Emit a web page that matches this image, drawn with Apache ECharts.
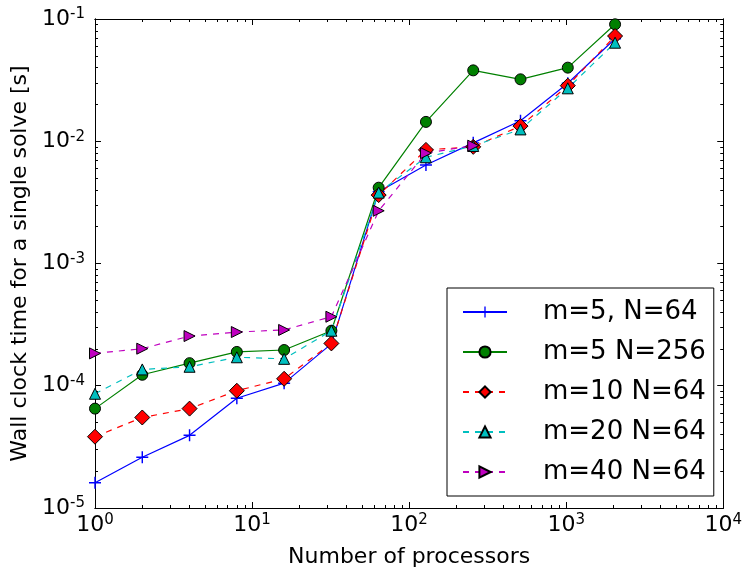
<!DOCTYPE html>
<html>
<head>
<meta charset="utf-8">
<script src="https://cdn.jsdelivr.net/npm/echarts@6/dist/echarts.min.js"></script>
<style>html,body{margin:0;padding:0;background:#fff;}#c{width:745px;height:575px;}</style>
</head>
<body>
<div id="c"></div>
<script>
// ---- data ----
const processors = [1, 2, 4, 8, 16, 32, 64, 128, 256, 512, 1024, 2048];
const m5N64   = [1.61e-5, 2.60e-5, 3.93e-5, 7.9e-5, 1.05e-4, 2.2e-4, 3.87e-3, 6.4e-3, 9.7e-3, 1.47e-2, 2.98e-2, 6.9e-2];
const m5N256  = [6.5e-5, 1.23e-4, 1.53e-4, 1.89e-4, 1.96e-4, 2.82e-4, 4.17e-3, 1.44e-2, 3.8e-2, 3.21e-2, 4.0e-2, 9.05e-2];
const m10N64  = [3.83e-5, 5.5e-5, 6.5e-5, 9.1e-5, 1.14e-4, 2.22e-4, 3.63e-3, 8.5e-3, 9.0e-3, 1.33e-2, 2.85e-2, 7.26e-2];
const m20N64  = [8.6e-5, 1.36e-4, 1.43e-4, 1.71e-4, 1.66e-4, 2.82e-4, 3.8e-3, 7.4e-3, 9.15e-3, 1.25e-2, 2.71e-2, 6.4e-2];
const m40N64  = [1.84e-4, 2.01e-4, 2.55e-4, 2.75e-4, 2.86e-4, 3.67e-4, 2.7e-3, 8.0e-3, 9.2e-3];
const seriesNames = ['m=5, N=64', 'm=5 N=256', 'm=10 N=64', 'm=20 N=64', 'm=40 N=64'];
const xTickValues = [1, 10, 100, 1000, 10000];
const xTickExps   = ['0', '1', '2', '3', '4'];
const yTickValues = [1e-5, 1e-4, 1e-3, 1e-2, 1e-1];
const yTickExps   = ['-5', '-4', '-3', '-2', '-1'];
const xTitle = 'Number of processors';
const yTitle = 'Wall clock time for a single solve [s]';

// ---- helpers ----
function minorTicks(majors) {
  const out = [];
  for (let i = 0; i < majors.length - 1; i++) {
    for (let k = 2; k <= 9; k++) out.push(majors[i] * k);
  }
  return out;
}
function pairs(xs, ys) { return ys.map((y, i) => [xs[i], y]); }

const FONT = 'DejaVu Sans';
const rich = {
  b: { fontFamily: FONT, fontSize: 22, color: '#000', lineHeight: 24 },
  s: { fontFamily: FONT, fontSize: 15, color: '#000', verticalAlign: 'top', lineHeight: 15 }
};
function labelFmt(values, exps) {
  return function (v) {
    let idx = 0, best = Infinity;
    values.forEach((t, i) => { const d = Math.abs(Math.log10(t) - Math.log10(v)); if (d < best) { best = d; idx = i; } });
    return '{b|10}{s|' + exps[idx] + '}';
  };
}

const lineCol = '#000';
function majorAxis(opts) {
  return Object.assign({
    type: 'log', logBase: 10,
    axisLine: { show: true, lineStyle: { color: lineCol, width: 1 } },
    splitLine: { show: false },
    minorTick: { show: false },
  }, opts);
}

const xMin = 1, xMax = 10000, yMin = 1e-5, yMax = 1e-1;
const xMinor = minorTicks(xTickValues);
const yMinor = minorTicks(yTickValues);

const xAxes = [
  majorAxis({ position: 'bottom', min: xMin, max: xMax,
    axisTick: { show: true, inside: true, length: 6, customValues: xTickValues, lineStyle: { color: lineCol } },
    axisLabel: { show: true, customValues: xTickValues, formatter: labelFmt(xTickValues, xTickExps), rich: rich, margin: 5 },
    name: xTitle, nameLocation: 'middle', nameGap: 38,
    nameTextStyle: { fontFamily: FONT, fontSize: 22, color: '#000' } }),
  majorAxis({ position: 'bottom', min: xMin, max: xMax,
    axisTick: { show: true, inside: true, length: 3, customValues: xMinor, lineStyle: { color: lineCol } },
    axisLabel: { show: false } }),
  majorAxis({ position: 'top', min: xMin, max: xMax,
    axisTick: { show: true, inside: true, length: 6, customValues: xTickValues, lineStyle: { color: lineCol } },
    axisLabel: { show: false } }),
  majorAxis({ position: 'top', min: xMin, max: xMax,
    axisTick: { show: true, inside: true, length: 3, customValues: xMinor, lineStyle: { color: lineCol } },
    axisLabel: { show: false } })
];
const yAxes = [
  majorAxis({ position: 'left', min: yMin, max: yMax,
    axisTick: { show: true, inside: true, length: 6, customValues: yTickValues, lineStyle: { color: lineCol } },
    axisLabel: { show: true, customValues: yTickValues, formatter: labelFmt(yTickValues, yTickExps), rich: rich, margin: 10 },
    name: yTitle, nameLocation: 'middle', nameGap: 62, nameRotate: 90,
    nameTextStyle: { fontFamily: FONT, fontSize: 22, color: '#000' } }),
  majorAxis({ position: 'left', min: yMin, max: yMax,
    axisTick: { show: true, inside: true, length: 3, customValues: yMinor, lineStyle: { color: lineCol } },
    axisLabel: { show: false } }),
  majorAxis({ position: 'right', min: yMin, max: yMax,
    axisTick: { show: true, inside: true, length: 6, customValues: yTickValues, lineStyle: { color: lineCol } },
    axisLabel: { show: false } }),
  majorAxis({ position: 'right', min: yMin, max: yMax,
    axisTick: { show: true, inside: true, length: 3, customValues: yMinor, lineStyle: { color: lineCol } },
    axisLabel: { show: false } })
];

const plusPath = 'path://M4.4,0h1.2v4.4h4.4v1.2h-4.4v4.4h-1.2v-4.4h-4.4v-1.2h4.4z';

function mkSeries(name, ys, color, symbol, size, dashed, rotate, border) {
  return {
    name: name, type: 'line', xAxisIndex: 0, yAxisIndex: 0,
    data: pairs(processors, ys),
    symbol: symbol, symbolSize: size, symbolRotate: rotate || 0,
    showAllSymbol: true,
    lineStyle: { color: color, width: 1.2, type: dashed ? [6, 6] : 'solid' },
    itemStyle: { color: color, borderColor: border ? '#000' : color, borderWidth: border ? 1 : 0, opacity: 1 },
    emphasis: { disabled: true },
    animation: false
  };
}

const chart = echarts.init(document.getElementById('c'), null, { renderer: 'canvas' });
chart.setOption({
  animation: false,
  backgroundColor: '#fff',
  grid: { left: 95, top: 19, right: 18, bottom: 67, containLabel: false },
  xAxis: xAxes,
  yAxis: yAxes,
  legend: {
    show: true, orient: 'vertical', left: 447, top: 288,
    data: seriesNames,
    backgroundColor: '#fff', borderColor: '#000', borderWidth: 1, borderRadius: 0,
    padding: [9, 8, 9, 15],
    itemWidth: 44, itemHeight: 14, itemGap: 10,
    textStyle: { fontFamily: FONT, fontSize: 26, color: '#000', lineHeight: 30, padding: [0, 0, 0, 31] },
    selectedMode: false
  },
  series: [
    mkSeries(seriesNames[0], m5N64, '#0000ff', plusPath, 12, false, 0, false),
    mkSeries(seriesNames[1], m5N256, '#008000', 'circle', 11, false, 0, true),
    mkSeries(seriesNames[2], m10N64, '#ff0000', 'diamond', 15, true, 0, true),
    mkSeries(seriesNames[3], m20N64, '#00bfbf', 'triangle', 11, true, 0, true),
    mkSeries(seriesNames[4], m40N64, '#bf00bf', 'triangle', 11, true, -90, true)
  ]
});
</script>
</body>
</html>
